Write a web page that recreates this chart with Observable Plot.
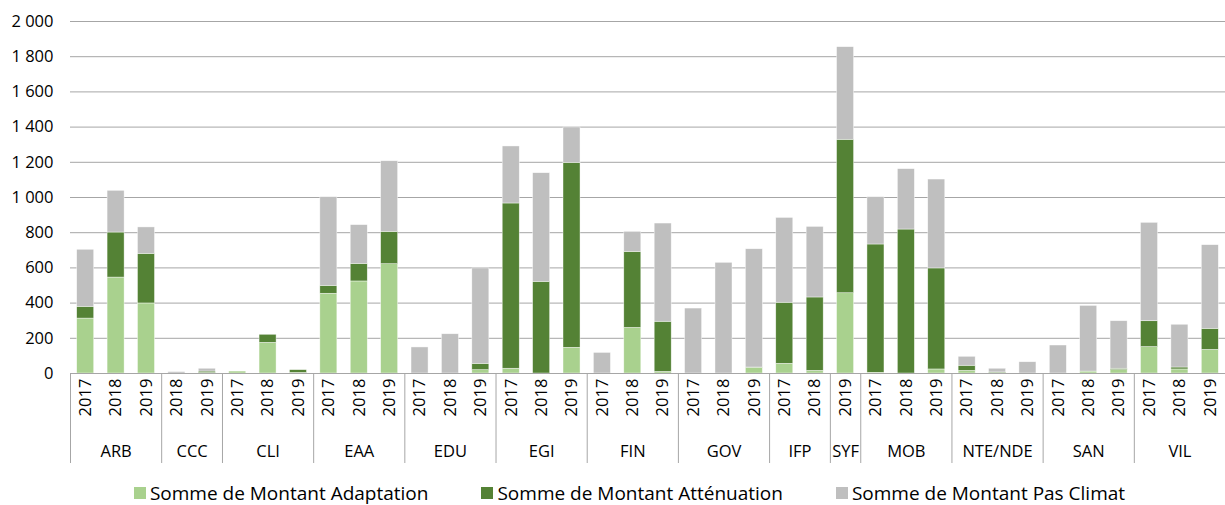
<!DOCTYPE html>
<html>
<head>
<meta charset="utf-8">
<script src="https://cdn.jsdelivr.net/npm/d3@7"></script>
<script src="https://cdn.jsdelivr.net/npm/@observablehq/plot@0.6"></script>
<style>
  html, body { margin: 0; padding: 0; background: #fff; }
  body { width: 1225px; height: 505px; overflow: hidden; font-family: "Open Sans", sans-serif; }
  #chart svg { display: block; }
  .legend { display: flex; justify-content: center; gap: 53px; font-size: 19px; color: #000; margin-top: 9px; padding-left: 34px; line-height: 24px; }
  .legend span.item { display: flex; align-items: center; }
  .legend span.sw { width: 12px; height: 12px; display: inline-block; margin-right: 4px; }
</style>
</head>
<body>
<div id="chart"></div>
<div class="legend" id="legend"></div>
<script>
const categories = ["ARB","CCC","CLI","EAA","EDU","EGI","FIN","GOV","IFP","SYF","MOB","NTE/NDE","SAN","VIL"];
const years = [
  [2017,2018,2019],[2018,2019],[2017,2018,2019],[2017,2018,2019],[2017,2018,2019],
  [2017,2018,2019],[2017,2018,2019],[2017,2018,2019],[2017,2018],[2019],
  [2017,2018,2019],[2017,2018,2019],[2017,2018,2019],[2017,2018,2019]
];
const adaptation = [
  312,545,398, 0,2, 11,174,3, 453,523,621, 0,0,19, 27,0,146, 0,259,9, 0,0,32,
  55,15, 456, 4,0,23, 15,2,0, 0,11,19, 150,23,134
];
const attenuation = [
  67,256,282, 0,9, 0,46,16, 45,100,184, 0,0,36, 939,521,1051, 0,432,285, 0,0,2,
  347,417, 872, 729,818,574, 29,4,0, 0,0,8, 147,11,120
];
const pasClimat = [
  324,237,150, 8,16, 0,0,0, 504,220,401, 148,223,542, 324,617,201, 117,114,558, 369,629,672,
  482,401, 526, 269,343,505, 51,21,64, 159,373,270, 559,243,475
];
const seriesNames = ["Somme de Montant Adaptation","Somme de Montant Atténuation","Somme de Montant Pas Climat"];
const seriesColors = ["#A9D18E","#548235","#BFBFBF"];
const yTicks = [0,200,400,600,800,1000,1200,1400,1600,1800,2000];

const bars = [];
const groupInfo = [];
categories.forEach((c, gi) => {
  const start = bars.length;
  years[gi].forEach(y => bars.push({i: bars.length, cat: c, year: y}));
  groupInfo.push({cat: c, start, end: bars.length - 1, mid: (start + bars.length - 1) / 2});
});
const seriesValues = [adaptation, attenuation, pasClimat];
const rows = [];
bars.forEach(b => {
  seriesNames.forEach((s, si) => rows.push({i: b.i, series: s, value: seriesValues[si][b.i]}));
});
const boundaries = groupInfo.map(g => g.start - 0.5).concat([bars.length - 0.5]);
const halfW = 0.28;

const fmt = d => d3.format(",")(d).replace(/,/g, " ");

const chart = Plot.plot({
  width: 1225,
  height: 472,
  marginLeft: 70,
  marginRight: 0,
  marginTop: 21,
  marginBottom: 99,
  style: {fontFamily: "Open Sans, sans-serif", fontSize: "16px", color: "#000"},
  x: {domain: [-0.5, bars.length - 0.5], axis: null},
  y: {domain: [0, 2000], axis: null},
  color: {domain: seriesNames, range: seriesColors},
  marks: [
    Plot.gridY(yTicks, {stroke: "#A6A6A6", strokeOpacity: 1, strokeWidth: 1}),
    Plot.axisY(yTicks, {tickSize: 0, tickPadding: 17, tickFormat: fmt, fontSize: 16.5, label: null}),
    Plot.rectY(rows, Plot.stackY({
      x1: d => d.i - halfW, x2: d => d.i + halfW, y: "value", fill: "series",
      stroke: "#fff", strokeWidth: 0.6, strokeOpacity: 0.7
    })),
    Plot.ruleY([0], {stroke: "#A6A6A6", strokeWidth: 1}),
    Plot.ruleX(boundaries, {x: d => d, y1: 0, y2: 0, insetBottom: -90, stroke: "#A6A6A6", strokeWidth: 1}),
    Plot.text(bars, {x: "i", y: () => 0, text: d => String(d.year), rotate: -90, dy: 24, textAnchor: "middle", fontSize: 16.5, fill: "#000"}),
    Plot.text(groupInfo, {x: "mid", y: () => 0, text: "cat", dy: 78, textAnchor: "middle", fontSize: 16.5, fill: "#000"})
  ]
});
document.getElementById("chart").appendChild(chart);

const legend = document.getElementById("legend");
seriesNames.forEach((s, i) => {
  const item = document.createElement("span");
  item.className = "item";
  const sw = document.createElement("span");
  sw.className = "sw";
  sw.style.background = seriesColors[i];
  item.appendChild(sw);
  item.appendChild(document.createTextNode(s));
  legend.appendChild(item);
});
</script>
</body>
</html>
